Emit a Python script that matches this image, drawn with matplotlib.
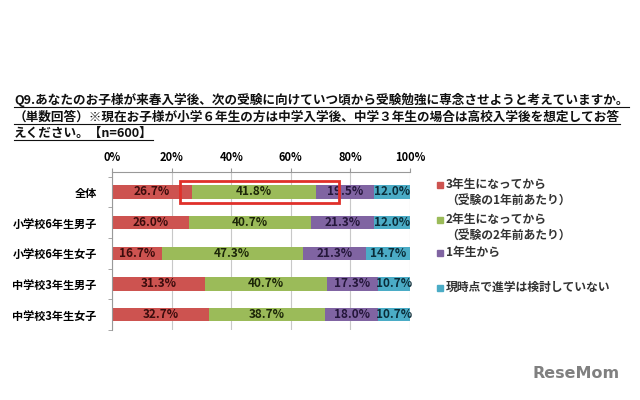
import matplotlib.pyplot as plt
import numpy as np
from matplotlib.patches import Rectangle
from matplotlib.lines import Line2D

plt.rcParams['font.family'] = ['Noto Sans CJK JP', 'DejaVu Sans']

# data
categories = ['全体', '小学校6年生男子', '小学校6年生女子', '中学校3年生男子', '中学校3年生女子']
from_3rd = [26.7, 26.0, 16.7, 31.3, 32.7]
from_2nd = [41.8, 40.7, 47.3, 40.7, 38.7]
from_1st = [19.5, 21.3, 21.3, 17.3, 18.0]
not_yet = [12.0, 12.0, 14.7, 10.7, 10.7]
series = [from_3rd, from_2nd, from_1st, not_yet]
legend_labels = ['3年生になってから\n（受験の1年前あたり）',
                 '2年生になってから\n（受験の2年前あたり）',
                 '1年生から',
                 '現時点で進学は検討していない']
colors = ['#cd5350', '#9bbb59', '#8064a2', '#4bacc6']
text_colors = ['#3a0c0c', '#1c2608', '#24163a', '#0a2c38']
x_ticks = [0, 20, 40, 60, 80, 100]

title_lines = ['Q9.あなたのお子様が来春入学後、次の受験に向けていつ頃から受験勉強に専念させようと考えていますか。',
               '（単数回答）※現在お子様が小学６年生の方は中学入学後、中学３年生の場合は高校入学後を想定してお答',
               'えください。【n=600】']

fig = plt.figure(figsize=(6.4, 4.0), dpi=100)
ax = fig.add_axes([112 / 640, 1 - 330 / 400, 298 / 640, 158 / 400])

y = np.arange(len(categories))
left = np.zeros(len(categories))
for vals, c, tc in zip(series, colors, text_colors):
    vals = np.array(vals)
    ax.barh(y, vals, left=left, height=0.43, color=c, zorder=2)
    for yi, l, v in zip(y, left, vals):
        ax.text(l + v / 2, yi, f'{v:.1f}%', ha='center', va='center',
                fontsize=8.5, fontweight='bold', color=tc, zorder=3)
    left += vals

ax.set_xlim(0, 100)
ax.set_ylim(len(categories) - 0.5, -0.65)
ax.set_xticks(x_ticks)
ax.set_xticklabels([f'{t}%' for t in x_ticks], fontsize=8, fontweight='bold')
ax.xaxis.tick_top()
ax.tick_params(axis='x', length=3, color='#999999', pad=3)
ax.set_yticks(np.arange(-0.5, len(categories), 1), minor=True)
ax.set_yticks(y)
ax.set_yticklabels(categories, fontsize=8, fontweight='bold')
ax.tick_params(axis='y', which='major', length=0, pad=11)
ax.tick_params(axis='y', which='minor', length=3, color='#999999')
ax.grid(axis='x', color='#c8c8c8', lw=0.8, zorder=0)
for s in ['right', 'bottom']:
    ax.spines[s].set_visible(False)
for s in ['left', 'top']:
    ax.spines[s].set_color('#999999')
    ax.spines[s].set_linewidth(0.8)

# red highlight box around the 41.8% segment
ax.add_patch(Rectangle((22.8, -0.37), 53.4, 0.74, fill=False, edgecolor='#e0302a',
                       lw=2, zorder=4, clip_on=False))

# legend
leg_y = [185, 220, 253, 288]
for lab, c, ly in zip(legend_labels, colors, leg_y):
    fig.add_artist(Rectangle((437 / 640, 1 - (ly + 3) / 400), 6 / 640, 6 / 400,
                             color=c, transform=fig.transFigure))
    fig.text(446 / 640, 1 - (ly - 7) / 400, lab, fontsize=8.5, fontweight='bold',
             color='#333333', va='top', ha='left', linespacing=1.3)

# title with underline
title_y = [100, 117, 133]
texts = []
for line, ty in zip(title_lines, title_y):
    texts.append(fig.text(14 / 640, 1 - ty / 400, line, fontsize=9.1, fontweight='bold',
                          color='#111111', va='center', ha='left'))
fig.canvas.draw()
renderer = fig.canvas.get_renderer()
for t in texts:
    bb = t.get_window_extent(renderer).transformed(fig.transFigure.inverted())
    fig.add_artist(Line2D([bb.x0, bb.x1], [bb.y0, bb.y0], color='#111111', lw=0.8,
                          transform=fig.transFigure))

# watermark
fig.text(532 / 640, 1 - 373 / 400, 'ReseMom', fontsize=11.5, fontweight='bold',
         color='#808080', va='center', ha='left', family='DejaVu Sans')

fig.savefig('out.png', dpi=100)
